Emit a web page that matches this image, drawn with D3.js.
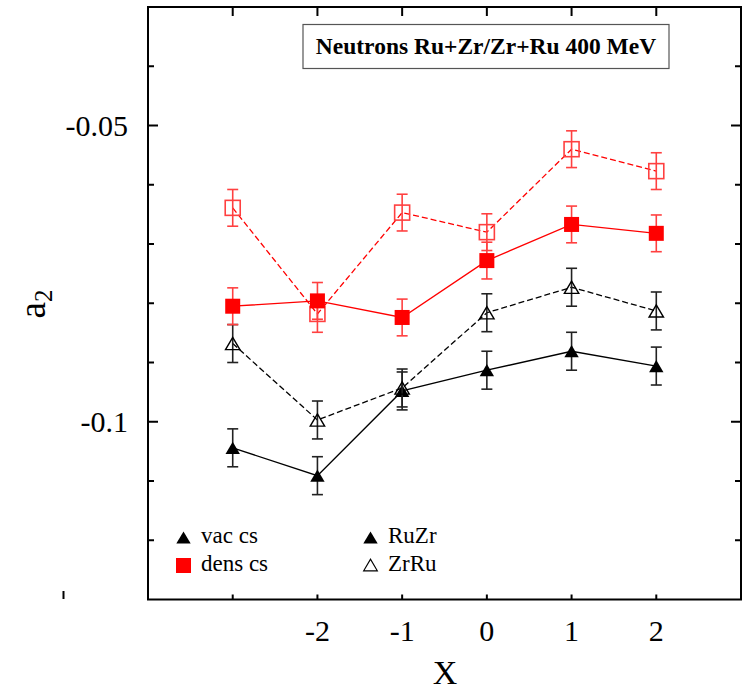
<!DOCTYPE html>
<html>
<head>
<meta charset="utf-8">
<script src="https://cdn.jsdelivr.net/npm/d3@7"></script>
<style>
  html, body { margin: 0; padding: 0; background: #fff; }
  svg { display: block; }
  text { font-family: "Liberation Serif", "DejaVu Serif", serif; fill: #000; }
</style>
</head>
<body>
<svg id="chart" width="749" height="691"></svg>
<script>
// Elliptic flow a2 of neutrons vs. X, isobar collisions at 400 MeV
const xValues = [-3, -2, -1, 0, 1, 2];
const xTickLabels = ["-2", "-1", "0", "1", "2"];
const yTickLabels = ["-0.05", "-0.1"];

// vacuum cross sections
const vacRuZr = [-0.1044, -0.1091, -0.0948, -0.0913, -0.0881, -0.0906];
const vacZrRu = [-0.0868, -0.0997, -0.0943, -0.0816, -0.0773, -0.0813];
const vacErr  = [0.0032, 0.0032, 0.0032, 0.0032, 0.0032, 0.0032];

// in-medium (density dependent) cross sections
const densRuZr = [-0.0805, -0.0796, -0.0824, -0.0728, -0.0667, -0.0682];
const densZrRu = [-0.0639, -0.0818, -0.0647, -0.0680, -0.0540, -0.0577];
const densErr  = [0.0031, 0.0031, 0.0031, 0.0031, 0.0031, 0.0031];

const svg = d3.select("#chart");
const L = 148, R = 741, T = 7, B = 599.5;

const x = d3.scaleLinear().domain([-4, 3]).range([L, R]);
const y = d3.scaleLinear().domain([-0.13, -0.03]).range([B, T]);

// tick marks on all four sides
const yTicks = d3.range(-0.12, -0.035, 0.01).map(v => +v.toFixed(2));
const isMajor = v => Math.abs(v + 0.05) < 1e-9 || Math.abs(v + 0.1) < 1e-9;
const tickG = svg.append("g").attr("stroke", "#000").attr("stroke-width", 2);
yTicks.forEach(v => {
  const len = isMajor(v) ? 10 : 6;
  tickG.append("line").attr("x1", L).attr("x2", L + len).attr("y1", y(v)).attr("y2", y(v));
  tickG.append("line").attr("x1", R).attr("x2", R - len).attr("y1", y(v)).attr("y2", y(v));
});
xValues.forEach(v => {
  tickG.append("line").attr("x1", x(v)).attr("x2", x(v)).attr("y1", B).attr("y2", B - 5);
  tickG.append("line").attr("x1", x(v)).attr("x2", x(v)).attr("y1", T).attr("y2", T + 9);
});

// frame
svg.append("rect").attr("x", L).attr("y", T).attr("width", R - L).attr("height", B - T)
  .attr("fill", "none").attr("stroke", "#000").attr("stroke-width", 2);

// tick labels
[-0.05, -0.1].forEach((v, i) => {
  svg.append("text").attr("x", 128).attr("y", y(v)).attr("dy", "0.35em")
    .attr("text-anchor", "end").attr("font-size", 30).text(yTickLabels[i]);
});
[-2, -1, 0, 1, 2].forEach((v, i) => {
  svg.append("text").attr("x", x(v)).attr("y", 641).attr("text-anchor", "middle")
    .attr("font-size", 30).text(xTickLabels[i]);
});
// small stray mark left of the lower axis corner
svg.append("line").attr("x1", 63.5).attr("x2", 63.5).attr("y1", 591).attr("y2", 599)
  .attr("stroke", "#000").attr("stroke-width", 2);

// axis titles
svg.append("text").attr("x", 445).attr("y", 684).attr("text-anchor", "middle")
  .attr("font-size", 34).text("X");
const yl = svg.append("text").attr("transform", "translate(45,304) rotate(-90)")
  .attr("text-anchor", "middle").attr("font-size", 37);
yl.append("tspan").text("a");
yl.append("tspan").attr("font-size", 25).attr("dy", 7).text("2");

// title box
svg.append("rect").attr("x", 303).attr("y", 24.5).attr("width", 366).attr("height", 44)
  .attr("fill", "#fff").attr("stroke", "#555").attr("stroke-width", 1.2);
svg.append("text").attr("x", 486).attr("y", 54).attr("text-anchor", "middle")
  .attr("font-size", 23.5).attr("font-weight", "bold").text("Neutrons Ru+Zr/Zr+Ru 400 MeV");

// marker shapes
const tri = (cx, cy, s) => `M${cx - s},${cy + s * 0.85}L${cx + s},${cy + s * 0.85}L${cx},${cy - s * 0.85}Z`;

function drawSeries(vals, errs, opts) {
  const g = svg.append("g");
  const pts = xValues.map((xv, i) => [x(xv), y(vals[i])]);
  g.append("path").attr("d", d3.line()(pts)).attr("fill", "none")
    .attr("stroke", opts.color).attr("stroke-width", 1.3)
    .attr("stroke-dasharray", opts.dashed ? "6,3" : null);
  // error bars
  xValues.forEach((xv, i) => {
    const cx = x(xv), y0 = y(vals[i] + errs[i]), y1 = y(vals[i] - errs[i]);
    const eg = g.append("g").attr("stroke", opts.errColor).attr("stroke-width", 1.6);
    eg.append("line").attr("x1", cx).attr("x2", cx).attr("y1", y0).attr("y2", y1);
    eg.append("line").attr("x1", cx - 5.5).attr("x2", cx + 5.5).attr("y1", y0).attr("y2", y0);
    eg.append("line").attr("x1", cx - 5.5).attr("x2", cx + 5.5).attr("y1", y1).attr("y2", y1);
  });
  // markers
  pts.forEach(([cx, cy]) => {
    if (opts.shape === "square") {
      g.append("rect").attr("x", cx - 7.5).attr("y", cy - 7.5).attr("width", 15).attr("height", 15)
        .attr("fill", opts.filled ? opts.color : "none")
        .attr("stroke", opts.filled ? "none" : opts.errColor).attr("stroke-width", 1.6);
    } else {
      g.append("path").attr("d", tri(cx, cy, 7.2))
        .attr("fill", opts.filled ? opts.color : "none")
        .attr("stroke", opts.filled ? "none" : opts.color).attr("stroke-width", 1.4);
    }
  });
}

drawSeries(vacRuZr, vacErr, { color: "#000", errColor: "#222", shape: "triangle", filled: true, dashed: false });
drawSeries(vacZrRu, vacErr, { color: "#000", errColor: "#222", shape: "triangle", filled: false, dashed: true });
drawSeries(densZrRu, densErr, { color: "#ff0000", errColor: "#ff4040", shape: "square", filled: false, dashed: true });
drawSeries(densRuZr, densErr, { color: "#ff0000", errColor: "#ff4040", shape: "square", filled: true, dashed: false });

// legend
const lg = svg.append("g");
lg.append("path").attr("d", tri(183.5, 537.5, 7.2)).attr("fill", "#000");
lg.append("text").attr("x", 201).attr("y", 543).attr("font-size", 23).text("vac cs");
lg.append("rect").attr("x", 176).attr("y", 558).attr("width", 15).attr("height", 15).attr("fill", "#ff0000");
lg.append("text").attr("x", 201).attr("y", 571).attr("font-size", 23).text("dens cs");
lg.append("path").attr("d", tri(370.5, 537.5, 7.2)).attr("fill", "#000");
lg.append("text").attr("x", 388).attr("y", 543).attr("font-size", 23).text("RuZr");
lg.append("path").attr("d", tri(370.5, 565, 6.8)).attr("fill", "none").attr("stroke", "#000").attr("stroke-width", 1.2);
lg.append("text").attr("x", 388).attr("y", 571).attr("font-size", 23).text("ZrRu");
</script>
</body>
</html>
